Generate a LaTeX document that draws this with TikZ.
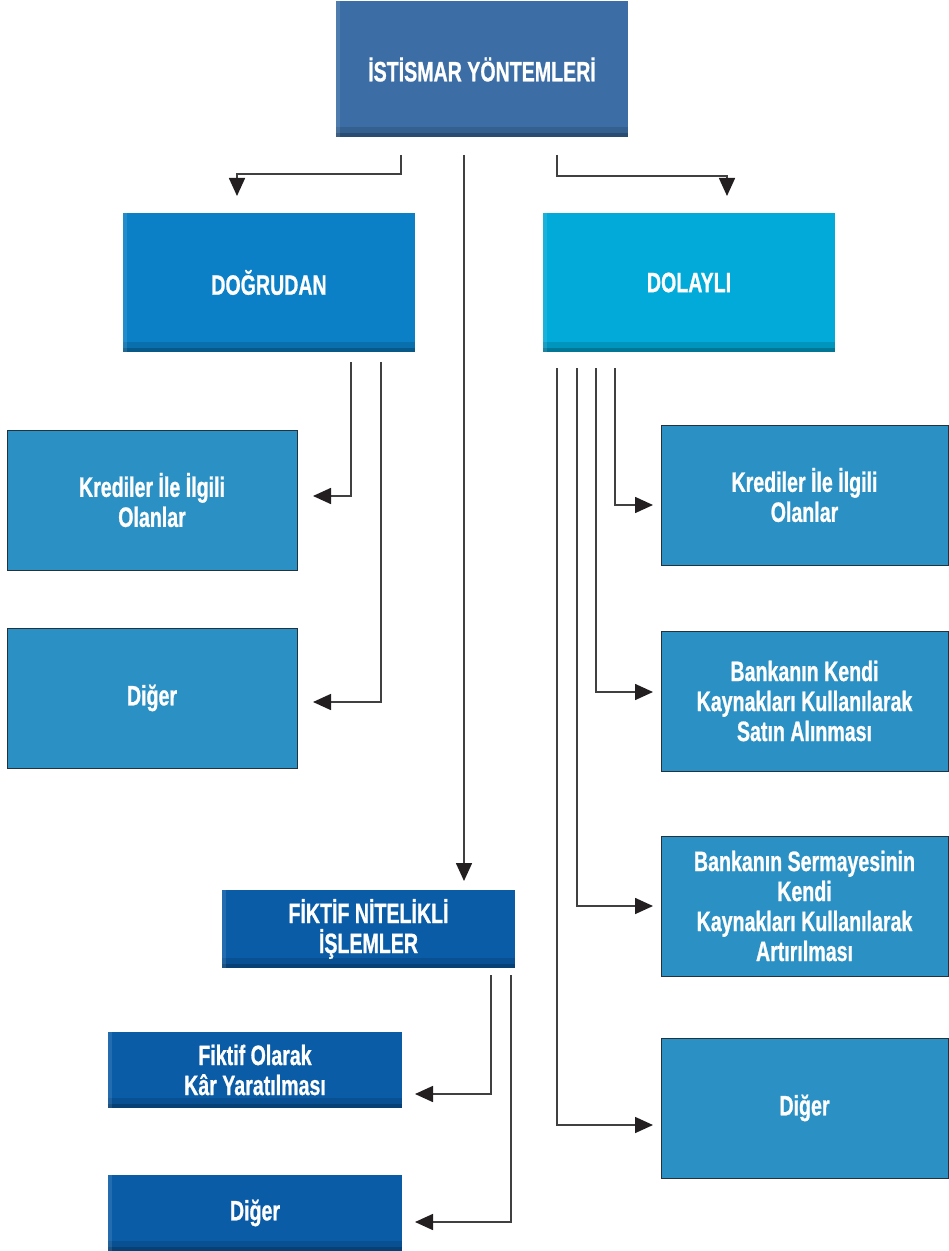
\documentclass[tikz,border=0pt]{standalone}
\usepackage{fontspec}
\setmainfont{Liberation Sans}[FakeStretch=0.7, BoldFeatures={FakeStretch=0.7, FakeBold=0.8}]
\usepackage{xcolor}
\usetikzlibrary{arrows.meta}
\definecolor{topblue}{RGB}{60,110,165}
\definecolor{directblue}{RGB}{11,128,198}
\definecolor{indirectblue}{RGB}{1,170,216}
\definecolor{leafblue}{RGB}{43,145,196}
\definecolor{fictblue}{RGB}{10,92,166}
\definecolor{edgegray}{RGB}{35,50,60}
\definecolor{linegray}{RGB}{64,64,64}
\definecolor{tipblack}{RGB}{35,31,32}
\tikzset{
    headbox/.style = {
        rectangle,
        fill            = #1,
        text            = white,
        font            = \bfseries\fontsize{14}{15}\selectfont,
        align           = center,
        inner sep       = 0pt,
        minimum width   = 146pt,
        minimum height  = 68pt,
        path picture    = {
            \fill[black,opacity=0.12] (path picture bounding box.south west) rectangle ([yshift=5pt]path picture bounding box.south east);
            \fill[black,opacity=0.2] (path picture bounding box.south west) rectangle ([yshift=2pt]path picture bounding box.south east);
            \fill[white,opacity=0.1] (path picture bounding box.south west) rectangle ([xshift=2pt]path picture bounding box.north west);
        },
    },
    leafbox/.style = {
        rectangle,
        fill            = leafblue,
        draw            = edgegray,
        line width      = 0.5pt,
        text            = white,
        font            = \bfseries\fontsize{14}{15}\selectfont,
        align           = center,
        inner sep       = 0pt,
        minimum width   = 145pt,
        minimum height  = 70pt,
    },
    conn/.style = {
        draw            = linegray,
        line width      = 0.8pt,
        -{Triangle[length=9pt,width=8pt,color=tipblack]},
    }
}
\begin{document}
\begin{tikzpicture}[x=0.5pt,y=-0.5pt]
  \useasboundingbox (0,0) rectangle (948,1251);

  % Top
  \node[headbox=topblue] (Istismar) at (482,69.5) {İSTİSMAR YÖNTEMLERİ};
  \node[headbox=directblue, minimum height=69.5pt] (Dogrudan) at (269,282.5) {DOĞRUDAN};
  \node[headbox=indirectblue, minimum height=69.5pt] (Dolayli) at (689,282.5) {DOLAYLI};
  \node[headbox=fictblue, minimum width=146.5pt, minimum height=39pt] (Fiktif) at (368.5,929) {FİKTİF NİTELİKLİ\\İŞLEMLER};

  \coordinate (IstL) at (401,155);
  \coordinate (IstM) at (464,155);
  \coordinate (IstR) at (557,155);
  \coordinate (DogIn) at (237,196);
  \coordinate (FikIn) at (464,881);
  \coordinate (DolIn) at (727,196);

  \draw[conn] (IstL) -- ++(0,19) -| (DogIn);
  \draw[conn] (IstM) -- (FikIn);
  \draw[conn] (IstR) -- ++(0,21) -| (DolIn);

  % Dogrudan
  \node[leafbox] (KredilerL) at (152,500) {Krediler İle İlgili\\Olanlar};
  \node[leafbox] (DigerL) at (152,698) {Diğer};

  \coordinate (DogA) at (351,362);
  \coordinate (DogB) at (381,362);
  \coordinate (KredilerLIn) at (313,496);
  \coordinate (DigerLIn) at (313,702);

  \draw[conn] (DogA) |- (KredilerLIn);
  \draw[conn] (DogB) |- (DigerLIn);

  % Dolayli
  \node[leafbox, minimum width=143.5pt] (KredilerR) at (804.5,495) {Krediler İle İlgili\\Olanlar};
  \node[leafbox, minimum width=143.5pt] (Banka) at (804.5,701) {Bankanın Kendi\\Kaynakları Kullanılarak\\Satın Alınması};
  \node[leafbox, minimum width=143.5pt] (Sermaye) at (804.5,906) {Bankanın Sermayesinin\\Kendi\\Kaynakları Kullanılarak\\Artırılması};
  \node[leafbox, minimum width=143.5pt] (DigerR) at (804.5,1108) {Diğer};

  \coordinate (DolA) at (615,368);
  \coordinate (DolB) at (596,368);
  \coordinate (DolC) at (577,368);
  \coordinate (DolD) at (557,368);
  \coordinate (KredilerRIn) at (653,505);
  \coordinate (BankaIn) at (653,692);
  \coordinate (SermayeIn) at (653,906);
  \coordinate (DigerRIn) at (653,1125);

  \draw[conn] (DolA) |- (KredilerRIn);
  \draw[conn] (DolB) |- (BankaIn);
  \draw[conn] (DolC) |- (SermayeIn);
  \draw[conn] (DolD) |- (DigerRIn);

  % Fiktif
  \node[headbox=fictblue, minimum width=147pt, minimum height=38pt] (FiktifKar) at (255,1070) {Fiktif Olarak\\Kâr Yaratılması};
  \node[headbox=fictblue, minimum width=147pt, minimum height=38pt] (DigerF) at (255,1213) {Diğer};

  \coordinate (FikA) at (491,975);
  \coordinate (FikB) at (511,975);
  \coordinate (FiktifKarIn) at (415,1094);
  \coordinate (DigerFIn) at (415,1222);

  \draw[conn] (FikA) |- (FiktifKarIn);
  \draw[conn] (FikB) |- (DigerFIn);

\end{tikzpicture}
\end{document}
